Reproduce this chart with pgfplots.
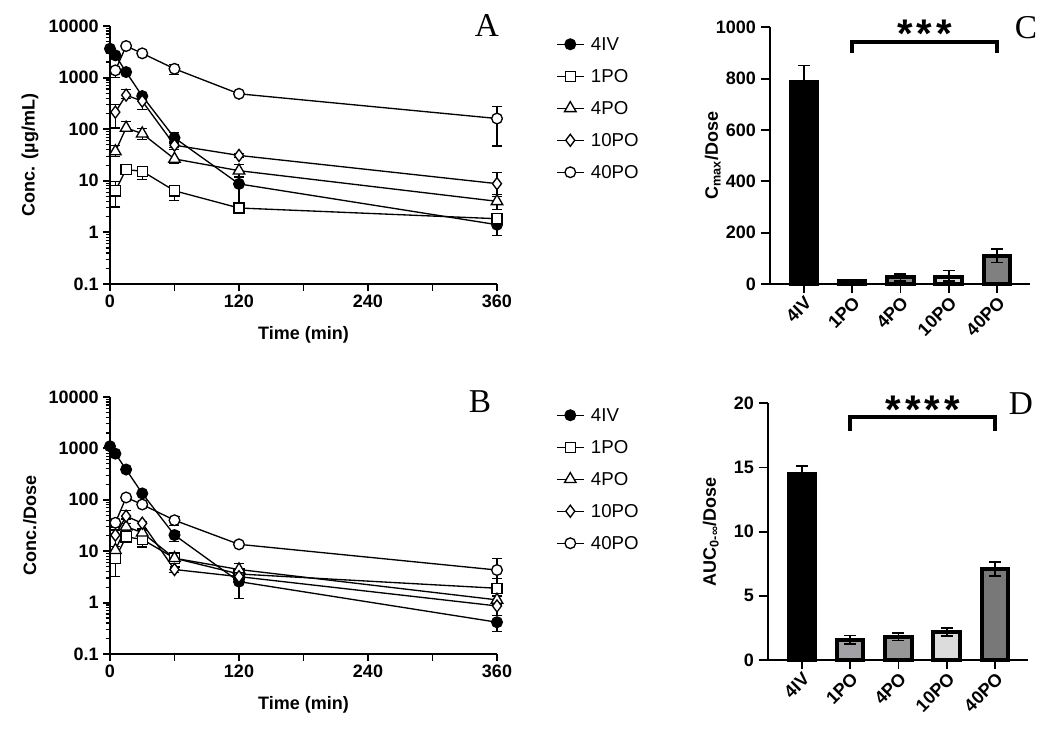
\documentclass[border=0pt]{standalone}
\usepackage{pgfplots}
\pgfplotsset{compat=1.18}
\usepackage{fontspec}
\setmainfont{Liberation Sans}
\newfontfamily\tnr{Liberation Serif}
\definecolor{cA}{RGB}{60,60,60}
\definecolor{cB}{RGB}{140,140,140}
\definecolor{cC}{RGB}{215,215,215}
\definecolor{cD}{RGB}{128,128,128}
\definecolor{dA}{RGB}{162,162,166}
\definecolor{dB}{RGB}{151,151,151}
\definecolor{dC}{RGB}{220,220,220}
\definecolor{dD}{RGB}{120,120,120}
\newcommand{\lblfont}{\bfseries\fontsize{13.5}{14}\selectfont}
\pgfplotsset{
  myBase/.style={
    scale only axis,
    axis x line*=bottom, axis y line*=left,
    axis line style={line width=1.8pt, -},
    tick align=outside,
    major tick length=5pt, minor tick length=3pt,
    every tick/.append style={line width=1.4pt, black},
    every minor tick/.append style={line width=0.9pt},
    tick label style={font=\lblfont},
    /pgf/number format/assume math mode=true,
    clip=false,
  },
  myPK/.style={
    myBase,
    width=290.25pt,
    xmin=0,xmax=360, ymin=0.1, ymax=10000,
    xtick={0,60,...,360}, xticklabels={0,,120,,240,,360},
    ytick={0.1,1,10,100,1000,10000}, yticklabels={0.1,1,10,100,1000,10000},
    xlabel={Time (min)},
    every axis x label/.style={at={(axis description cs:0.5,-0.198)},anchor=center,font=\lblfont},
    every axis y label/.style={at={(axis description cs:-0.207,0.5)},rotate=90,anchor=center,font=\lblfont},
    legend style={at={(axis description cs:1.1525,0.956)}, anchor=north west, draw=none, fill=none,
      inner sep=0pt, font=\fontsize{14}{14}\selectfont, row sep=14pt,
      nodes={inner ysep=0pt, inner xsep=5pt, text height=10pt, text depth=0pt}},
    legend cell align=left,
    legend image code/.code={\draw[mark repeat=2,mark phase=2] plot coordinates {(0pt,0pt) (10pt,0pt) (20pt,0pt)};},
  },
  myEB/.style={error bars/y dir=both, error bars/y explicit,
    error bars/error bar style={line width=1pt,black, solid},
    error bars/error mark options={line width=1pt,black,mark size=3.75pt, rotate=90}},
  sIV/.style={myEB, black, line width=1pt, mark=*, mark size=4pt, mark options={fill=black, solid}},
  sOne/.style={myEB, black, line width=1pt, mark=square*, mark size=3.8pt, mark options={fill=white, solid}},
  sFour/.style={myEB, black, line width=1pt, mark=triangle*, mark size=5pt, mark options={fill=white, solid}},
  sTen/.style={myEB, black, line width=1pt, mark=diamond*, mark size=4.5pt, mark options={fill=white, solid}},
  sForty/.style={myEB, black, line width=1pt, mark=*, mark size=4pt, mark options={fill=white, solid}},
  myBars/.style={
    myBase,
    width=195pt, height=192.5pt,
    xmin=-0.7, xmax=4.68, ymin=0,
    xtick={0,1,2,3,4}, xticklabels={4IV,1PO,4PO,10PO,40PO},
    major tick length=7pt,
    xticklabel style={rotate=45, anchor=north east, inner sep=1pt},
    every axis y label/.style={at={(axis description cs:-0.22,0.5)},rotate=90,anchor=center,font=\lblfont},
  },
  myBB/.style={ybar, bar width=20pt, bar shift=0pt, draw=black, line width=3pt, fill=#1,
    error bars/y dir=both, error bars/y explicit,
    error bars/error bar style={line width=1.3pt,black},
    error bars/error mark options={line width=1.3pt,black,mark size=4.5pt, rotate=90}},
}
\begin{document}
\begin{tikzpicture}
\useasboundingbox (0pt,0pt) rectangle (787.5pt,547.5pt);
% ---------- Panel A ----------
\begin{axis}[ymode=log, myPK, at={(82.5pt,334.5pt)}, anchor=south west, height=193.5pt,
  ylabel={Conc. (µg/mL)}]
\addplot[sIV] coordinates {
 (0,3630) +- (0,300) (5,2700) +- (0,200) (15,1280) +- (0,100) (30,438) +- (0,40)
 (60,68) += (0,17) -= (0,10) (120,8.7) += (0,3) -= (0,5) (360,1.41) += (0,0.35) -= (0,0.55)};
\addlegendentry{4IV}
\addplot[sOne] coordinates {
 (5,6.4) += (0,3.4) -= (0,3.3) (15,16.5) +- (0,1.5) (30,15.3) += (0,2.5) -= (0,4.8)
 (60,6.4) += (0,1.5) -= (0,2.3) (120,2.97) +- (0,0.3) (360,1.84) +- (0,0.3)};
\addlegendentry{1PO}
\addplot[sFour] coordinates {
 (5,37) += (0,12) -= (0,7) (15,106) += (0,37) -= (0,15) (30,82) += (0,21) -= (0,19)
 (60,26.5) += (0,13.5) -= (0,5) (120,15.7) += (0,5) -= (0,3.5) (360,4.0) += (0,1.0) -= (0,1.25)};
\addlegendentry{4PO}
\addplot[sTen] coordinates {
 (5,214) += (0,88) -= (0,108) (15,457) += (0,133) -= (0,60) (30,350) += (0,30) -= (0,109)
 (60,49) +- (0,5) (120,31) +- (0,3) (360,8.8) += (0,5.8) -= (0,3.4)};
\addlegendentry{10PO}
\addplot[sForty] coordinates {
 (5,1380) += (0,100) -= (0,390) (15,4090) +- (0,300) (30,2950) +- (0,200)
 (60,1480) += (0,300) -= (0,330) (120,485) +- (0,40) (360,161) += (0,111) -= (0,114)};
\addlegendentry{40PO}
\end{axis}
% ---------- Panel B ----------
\begin{axis}[ymode=log, myPK, at={(82.5pt,57pt)}, anchor=south west, height=192.75pt,
  ylabel={Conc./Dose}]
\addplot[sIV] coordinates {
 (0,1100) +- (0,80) (5,790) +- (0,50) (15,388) +- (0,30) (30,133) +- (0,10)
 (60,20.6) += (0,3) -= (0,5.3) (120,2.56) += (0,1.8) -= (0,1.35) (360,0.415) += (0,0.06) -= (0,0.14)};
\addlegendentry{4IV}
\addplot[sOne] coordinates {
 (5,7.3) += (0,3.2) -= (0,4.1) (15,19) +- (0,2) (30,17) += (0,3) -= (0,5)
 (60,7.3) +- (0,1) (120,3.6) +- (0,0.4) (360,1.9) += (0,1.0) -= (0,0.6)};
\addlegendentry{1PO}
\addplot[sFour] coordinates {
 (5,10.5) +- (0,2) (15,30) +- (0,5) (30,23) +- (0,4)
 (60,7.3) +- (0,1) (120,4.4) += (0,1.4) -= (0,1) (360,1.13) +- (0,0.2)};
\addlegendentry{4PO}
\addplot[sTen] coordinates {
 (5,20.6) += (0,9) -= (0,10) (15,48) += (0,13) -= (0,6) (30,35) += (0,3) -= (0,10)
 (60,4.4) +- (0,0.5) (120,3.2) +- (0,0.3) (360,0.86) += (0,0.5) -= (0,0.3)};
\addlegendentry{10PO}
\addplot[sForty] coordinates {
 (5,35.7) += (0,3) -= (0,10) (15,111) +- (0,8) (30,81) +- (0,5)
 (60,40) +- (0,8) (120,13.6) +- (0,1) (360,4.3) += (0,3) -= (0,2.8)};
\addlegendentry{40PO}
\end{axis}
% ---------- Panel C ----------
\begin{axis}[myBars, at={(577.5pt,334.5pt)}, anchor=south west, ymax=1000,
  ytick={0,200,400,600,800,1000}, yticklabels={0,200,400,600,800,1000},
  ylabel={C\textsubscript{max}/Dose}]
\addplot[myBB=black, error bars/y dir=plus] coordinates {(0,788) +- (0,63)};
\addplot[myBB=cA] coordinates {(1,13) +- (0,5)};
\addplot[myBB=cB] coordinates {(2,26) +- (0,13)};
\addplot[myBB=cC] coordinates {(3,29) += (0,24) -= (0,17)};
\addplot[myBB=cD] coordinates {(4,108) += (0,27) -= (0,24)};
\draw[line width=3pt] (axis cs:1,899) -- (axis cs:1,944) -- (axis cs:4,944) -- (axis cs:4,899);
\node[font=\bfseries\fontsize{30}{30}\selectfont, anchor=center] at (axis cs:2.5,975) {*\hspace{3pt}*\hspace{3pt}*};
\end{axis}
% ---------- Panel D ----------
\begin{axis}[myBars, at={(576pt,52.5pt)}, anchor=south west, ymax=20,
  ytick={0,5,10,15,20}, yticklabels={0,5,10,15,20},
  ylabel={AUC\textsubscript{0-∞}/Dose}]
\addplot[myBB=black, error bars/y dir=plus] coordinates {(0,14.47) +- (0,0.67)};
\addplot[myBB=dA] coordinates {(1,1.56) +- (0,0.34)};
\addplot[myBB=dB] coordinates {(2,1.82) +- (0,0.31)};
\addplot[myBB=dC] coordinates {(3,2.16) +- (0,0.31)};
\addplot[myBB=dD] coordinates {(4,7.06) += (0,0.55) -= (0,0.49)};
\draw[line width=3pt] (axis cs:1,17.85) -- (axis cs:1,18.9) -- (axis cs:4,18.9) -- (axis cs:4,17.85);
\node[font=\bfseries\fontsize{30}{30}\selectfont, anchor=center] at (axis cs:2.5,19.5) {*\hspace{3pt}*\hspace{3pt}*\hspace{3pt}*};
\end{axis}
% panel letters
\node[font=\tnr\fontsize{25}{25}\selectfont] at (365.25pt,528pt) {A};
\node[font=\tnr\fontsize{25}{25}\selectfont] at (360pt,246pt) {B};
\node[font=\tnr\fontsize{25}{25}\selectfont] at (769.5pt,527pt) {C};
\node[font=\tnr\fontsize{25}{25}\selectfont] at (765.75pt,245pt) {D};
\end{tikzpicture}
\end{document}
